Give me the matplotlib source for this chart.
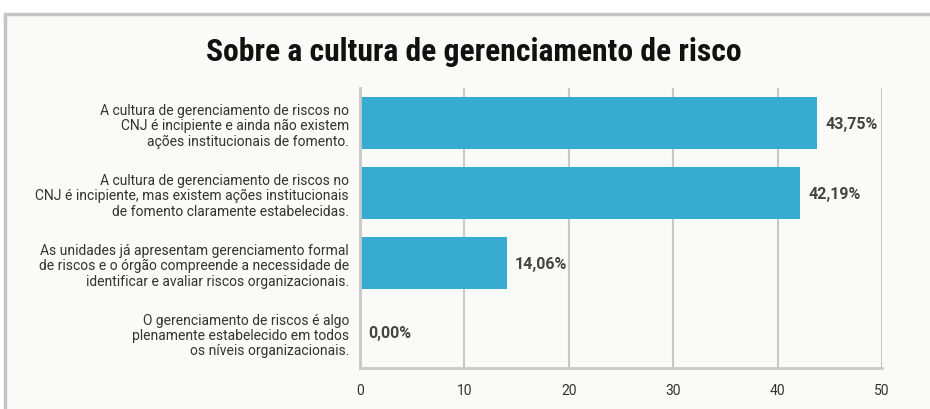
import matplotlib.pyplot as plt
from matplotlib.patches import Rectangle
from matplotlib import font_manager

categories = [
    "A cultura de gerenciamento de riscos no\nCNJ é incipiente e ainda não existem\nações institucionais de fomento.",
    "A cultura de gerenciamento de riscos no\nCNJ é incipiente, mas existem ações institucionais\nde fomento claramente estabelecidas.",
    "As unidades já apresentam gerenciamento formal\nde riscos e o órgão compreende a necessidade de\nidentificar e avaliar riscos organizacionais.",
    "O gerenciamento de riscos é algo\nplenamente estabelecido em todos\nos níveis organizacionais.",
]
values = [43.75, 42.19, 14.06, 0.00]
value_labels = ["43,75%", "42,19%", "14,06%", "0,00%"]
xticks = [0, 10, 20, 30, 40, 50]

names = {f.name for f in font_manager.fontManager.ttflist}
title_font = "DejaVu Sans"
for cand in ["Roboto Condensed", "Open Sans Condensed", "Liberation Sans Narrow"]:
    if cand in names:
        title_font = cand
        break
label_font = "Roboto" if "Roboto" in names else "DejaVu Sans"

bar_color = "#37acd0"
grid_color = "#c8c8c8"
text_color = "#333333"

fig = plt.figure(figsize=(9.3, 4.1), dpi=100)
fig.patch.set_facecolor("white")

# outer frame
frame = Rectangle((5 / 930, -0.02), 1.0, 1 - 15 / 410 + 0.02, transform=fig.transFigure,
                  facecolor="#fafaf9", edgecolor="#c4c4c4", linewidth=2.5, zorder=-5)
fig.patches.append(frame)

ax = fig.add_axes([360 / 930, 1 - 369 / 410, (882 - 360) / 930, (369 - 89) / 410])
ax.set_facecolor("none")
ax.set_zorder(2)

y = list(range(len(values)))
ax.barh(y, values, height=0.73, color=bar_color, zorder=2)
for yi, v, lab in zip(y, values, value_labels):
    ax.text(v + 0.8, yi, lab, va="center", ha="left", fontsize=11.5,
            fontweight="bold", color="#444444", zorder=3, family=label_font)

ax.set_ylim(3.5, -0.5)
ax.set_xlim(0, 50)
ax.set_xticks(xticks)
ax.set_xticklabels([str(t) for t in xticks], fontsize=10, color=text_color, family=label_font)
ax.set_yticks(y)
ax.set_yticklabels(categories, fontsize=10, color=text_color, linespacing=1.12, family=label_font)
ax.tick_params(axis="both", length=0, pad=11)
ax.tick_params(axis="y", pad=8)

ax.grid(axis="x", color=grid_color, linewidth=1.5, zorder=1)
ax.set_axisbelow(True)
for s in ["top", "right"]:
    ax.spines[s].set_visible(False)
for s in ["left", "bottom"]:
    ax.spines[s].set_color(grid_color)
    ax.spines[s].set_linewidth(2)

fig.text(474 / 930, 1 - 52 / 410, "Sobre a cultura de gerenciamento de risco",
         ha="center", va="center", fontsize=22.8, fontweight="bold",
         family=title_font, fontstretch="condensed", color="#111111")

fig.savefig("out.png", dpi=100, facecolor=fig.get_facecolor())
